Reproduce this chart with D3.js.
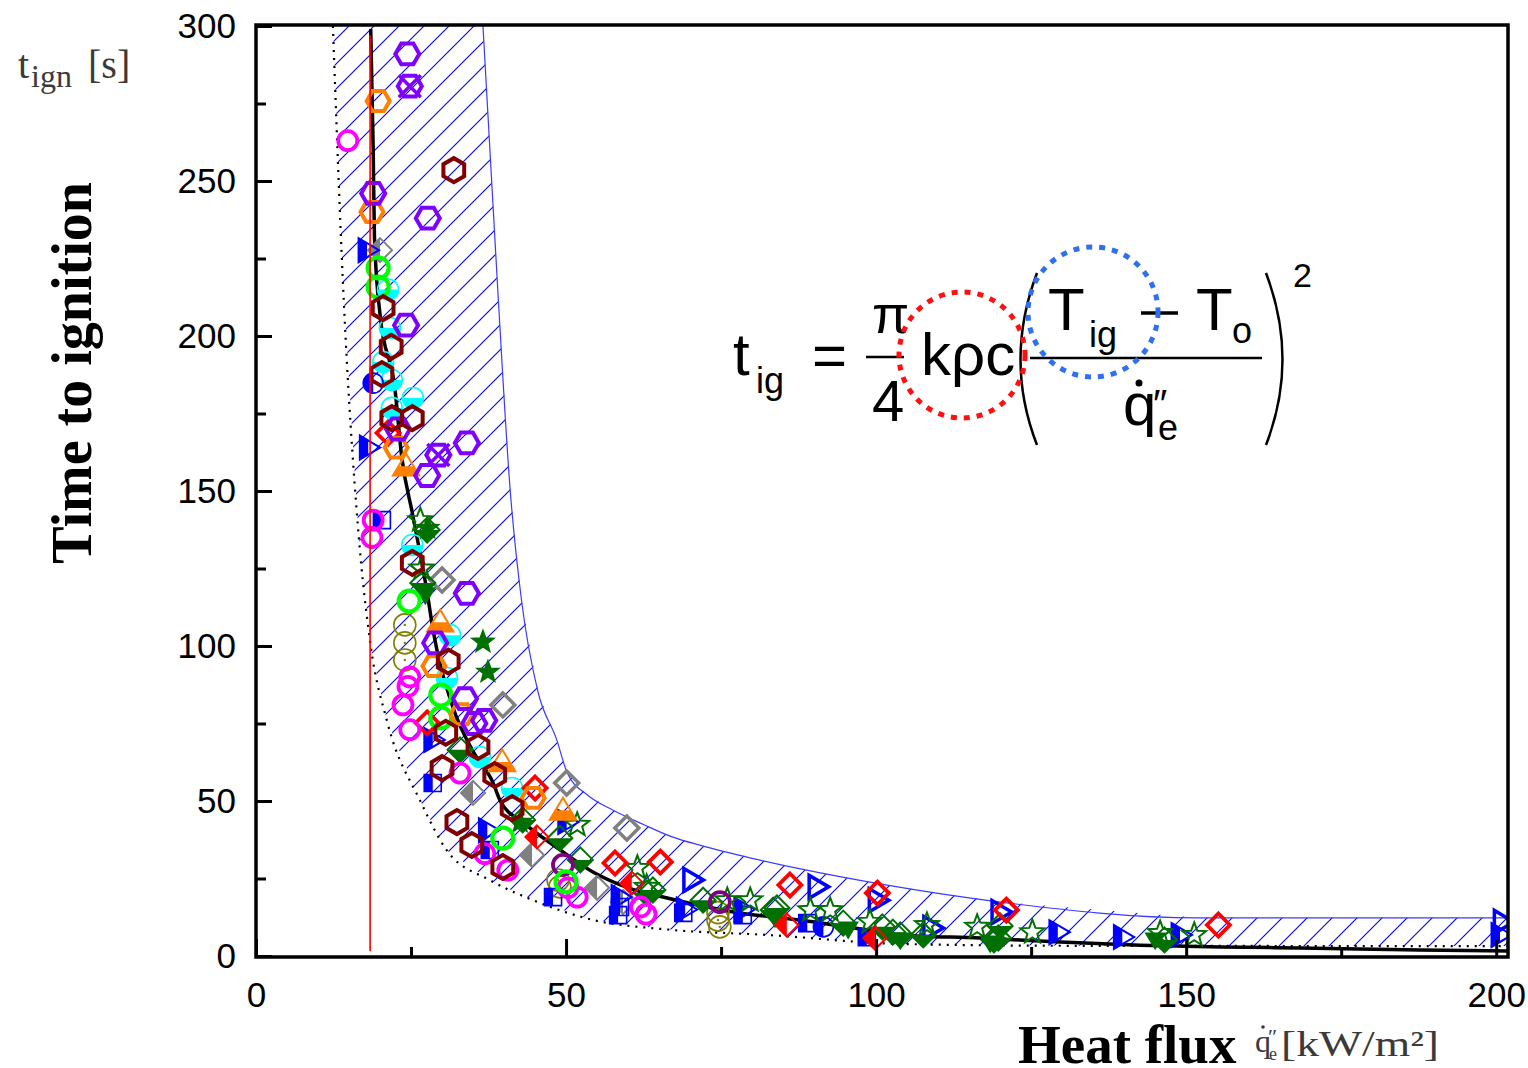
<!DOCTYPE html>
<html>
<head>
<meta charset="utf-8">
<script src="https://cdn.jsdelivr.net/npm/d3@7"></script>
<style>
  body { margin: 0; background: #fff; }
  .tick text { font-family: "Liberation Sans", Arial, sans-serif; font-size: 35px; fill: #000; }
</style>
</head>
<body>
<svg id="chart" width="1528" height="1068"></svg>
<script>
//////////////////////// data ////////////////////////
// each point is [heat flux kW/m2, time to ignition s]

const xMajorTicks = [0, 50, 100, 150, 200];
const xMinorTicks = [25, 75, 125, 175];
const yMajorTicks = [0, 50, 100, 150, 200, 250, 300];
const yMinorTicks = [25, 75, 125, 175, 225, 275];

// correlation curve and the scatter band
const fitCurve = [[18.5,299],[18.9,260],[19.1,232],[20.0,207],[22.4,183],[23.5,161],[25.2,143],[27.7,116],
  [28.4,107],[31.8,80],[35,66],[38.2,56],[39.4,50],[43.1,43],[48.5,35],[54.4,27],[60,22],[66.3,18.7],
  [77,14.2],[87.7,11.6],[98.5,8.4],[103.9,6.8],[116.8,5.8],[129.7,4.5],[142.6,3.5],[155.5,2.9],
  [168.4,2.6],[187.7,1.9],[201.9,1.6]];
const bandUpper = [[36.6,300],[38.9,218],[41.0,150],[42.8,115],[45.5,85],[48.5,69.7],[50.2,59],[53.4,52],
  [57.6,47],[62.4,42.5],[67,38.5],[72,35.5],[80,31.5],[88,28],[101.3,23],[120,17.4],[152,12.3],[201.9,12.3]];
const bandLower = [[12.4,300],[14.0,218],[16.5,137],[18.5,100],[21.1,76],[26.5,50],[30.8,34],[37.7,24.5],
  [44.7,18],[54.4,11.6],[66,8.6],[82.4,6.8],[103.9,3.9],[130,3.3],[201.9,3.2]];
const criticalFlux = [[18.4,1.5],[18.4,297]];

// test series
const hexPurple = [[24.4,291],[27.7,238],[18.9,246],[24.2,203.5],[22.9,170],[27.6,155],[34.0,165.5],
  [34.0,117],[28.9,101],[33.7,83],[35.2,75],[36.8,76]];
const hexPurpleCross = [[24.8,280.6],[29.4,161.6]];
const hexOrange = [[19.7,275.8],[18.7,240],[22.6,164],[28.7,93.5],[33.2,78],[44.7,51]];
const triOrange = [[24.2,158],[29.7,107.7],[39.7,62.6],[49.5,47]];
const circMagenta = [[14.8,263],[18.9,140.6],[18.7,135],[24.8,90],[24.5,87],[23.7,81],[24.8,73],[32.9,59],
  [36.9,33],[40.6,27.7],[51.8,19],[50.3,22],[62,15.8],[62.9,13.5]];
const hexMaroon = [[31.9,253.5],[20.5,209],[21.8,196.5],[20.3,187.7],[21.9,173.5],[25.2,173.5],[25.2,126.8],
  [31,95],[30.6,72],[35.8,67.4],[30,60.6],[32.4,43.2],[34.8,35.8],[39.8,28.7],[41.3,47.7],[38.5,58.4]];
const circCyan = [[21.3,215],[21.6,202.6],[20.5,191.6],[21.9,185.8],[21.9,176.8],[25.3,180],[25.2,132.6],
  [31.3,103.5],[30.8,89.7],[36.1,64.2],[41.3,54.2]];
const circGreen = [[19.7,222],[19.7,215.8],[24.7,114.5],[29.8,84.2],[29.8,76.8],[39.8,38],[50,23.9]];
const circOlive = [[24,106.8],[24,101],[24,95.5],[48.7,24.5],[49,22.3],[74.5,11.6],[74.8,9.4],[74.5,14]];
const circPlum = [[49.5,29.4],[74.8,17.4]];
const diamGrayHalf = [[20,227.7],[35,52.6],[44.5,32.6],[55,22],[59.2,17.4]];
const diamGray = [[30,121.3],[39.8,81],[50.1,55.8],[59.8,41.3]];
const triBlueHalf = [[17.9,227.7],[18.1,164],[28.5,69.7],[37.3,40.6],[50.1,43.2],[58.7,19],[69.2,15],
  [78.5,15],[129.3,7.7],[139.7,6.1],[149,6.8],[200.6,6.8]];
const triBlue = [[70.3,24.5],[90.5,22.3],[100.2,18],[120,14.2],[109,9],[201,11]];
const circBlueHalf = [[18.9,184.8],[91.5,9.4]];
const sqBlueHalf = [[20.3,140.6],[28.5,55.8],[47.9,19],[58.7,15.8],[58.4,13.2],[68.9,13.9],[78.5,13.2],
  [88.9,10.6],[98.5,6.1],[37.7,34.2]];
const diamRed = [[21.3,168.7],[27.6,75.2],[45,54.2],[57.9,30],[65.2,30.3],[86.1,22.9],[100.2,20.3],
  [121,14.8],[155.2,10]];
const diamRedHalf = [[45.3,38.4],[85.6,10],[99.8,5.8],[60.6,23.5]];
const starGreen = [[26.5,140.6],[26.7,125],[51.8,42.3],[61.5,28.4],[63,22.3],[76,18],[79.7,18],[89.4,14.8],
  [92.6,14.8],[99,11],[108.2,10],[116.3,9.4],[125.2,7.7],[145.8,7.4],[151.3,6.8]];
const starGreenFilled = [[36.6,101.3],[37.4,91.6],[42.6,43.2],[27.7,138]];
const diamGreenHalf = [[27.6,137.4],[26.9,120.3],[32.9,66.5],[43,43.9],[49,38],[52.3,31],[63,20.3],
  [64,21.3],[72.1,18],[84,15.5],[94.7,10.6],[102.7,7.7],[83.4,14.8],[101,9.4],[103.9,6.8],[107.6,6.8],
  [119.7,5.8],[119,5.2],[120,9.7],[146.5,5.2]];
const triGreenDown = [[27.3,116.5],[83.7,12.3],[95.5,8.7],[103.9,5.2],[118.4,4.2],[145,5.2]];

//////////////////////// scales ////////////////////////
const svg = d3.select("#chart");
const x = d3.scaleLinear().domain([0, 201.9]).range([256, 1508]);
const y = d3.scaleLinear().domain([0, 300]).range([956, 26]);

const defs = svg.append("defs");
defs.append("clipPath").attr("id", "plotClip")
  .append("rect").attr("x", 256).attr("y", 25).attr("width", 1252).attr("height", 932);
defs.append("clipPath").attr("id", "clipleft").attr("clipPathUnits", "userSpaceOnUse")
  .append("rect").attr("x", -30).attr("y", -30).attr("width", 30).attr("height", 60);
defs.append("clipPath").attr("id", "clipbottom").attr("clipPathUnits", "userSpaceOnUse")
  .append("rect").attr("x", -30).attr("y", 0).attr("width", 60).attr("height", 30);
const hatch = defs.append("pattern").attr("id", "hatch")
  .attr("patternUnits", "userSpaceOnUse").attr("width", 25).attr("height", 25);
hatch.append("path").attr("d", "M0,25L25,0M-5,5L5,-5M20,30L30,20")
  .attr("stroke", "#0000ff").attr("stroke-width", 1.1);

//////////////////////// band and curves ////////////////////////
const plot = svg.append("g").attr("clip-path", "url(#plotClip)");
const line = d3.line().x(d => x(d[0])).y(d => y(d[1]));

plot.append("path")
  .attr("d", line.curve(d3.curveLinearClosed)(bandUpper.concat(bandLower.slice().reverse())))
  .attr("fill", "url(#hatch)");
line.curve(d3.curveMonotoneX);
plot.append("path").attr("d", line(bandUpper))
  .attr("fill", "none").attr("stroke", "#3a3aff").attr("stroke-width", 1.2);
plot.append("path").attr("d", line(bandLower))
  .attr("fill", "none").attr("stroke", "#000").attr("stroke-width", 2.2).attr("stroke-dasharray", "2,6");
plot.append("path").attr("d", line(fitCurve))
  .attr("fill", "none").attr("stroke", "#000").attr("stroke-width", 3.5);

//////////////////////// markers ////////////////////////
function poly(pts) { return "M" + pts.map(p => p[0].toFixed(2) + "," + p[1].toFixed(2)).join("L") + "Z"; }
function hexPath(r, pointy) {
  const a0 = pointy ? Math.PI / 6 : 0;
  return poly(d3.range(6).map(i => [r * Math.cos(a0 + i * Math.PI / 3), r * Math.sin(a0 + i * Math.PI / 3)]));
}
const circlePath = r => `M${r},0A${r},${r} 0 1 1 ${-r},0A${r},${r} 0 1 1 ${r},0Z`;
const diamondPath = r => poly([[0,-r],[r,0],[0,r],[-r,0]]);
const squarePath = r => poly([[-r,-r],[r,-r],[r,r],[-r,r]]);
const triRightPath = r => poly([[r,0],[-r*0.7,-r],[-r*0.7,r]]);
const triUpPath = r => poly([[0,-r],[r*1.05,r*0.75],[-r*1.05,r*0.75]]);
const triDownPath = r => poly([[0,r],[r*1.05,-r*0.75],[-r*1.05,-r*0.75]]);
function starPath(R) {
  const r0 = R * 0.42;
  return poly(d3.range(10).map(i => {
    const a = -Math.PI / 2 + i * Math.PI / 5, rr = i % 2 ? r0 : R;
    return [rr * Math.cos(a), rr * Math.sin(a)];
  }));
}

const series = [
  { data: diamGray, path: diamondPath(12), color: "#808080", fill: "none", sw: 3.5 },
  { data: diamGrayHalf, path: diamondPath(12), color: "#808080", fill: "left", sw: 2 },
  { data: circOlive, path: circlePath(11), color: "#808000", fill: "none", sw: 1.6, dot: true },
  { data: circCyan, path: circlePath(10.5), color: "#00ffff", fill: "bottom", sw: 1.6 },
  { data: sqBlueHalf, path: squarePath(8.5), color: "#0000ff", fill: "left", sw: 1.6 },
  { data: circBlueHalf, path: circlePath(10), color: "#0000ff", fill: "left", sw: 1.6 },
  { data: triBlueHalf, path: triRightPath(12), color: "#0000ff", fill: "left", sw: 2 },
  { data: triBlue, path: triRightPath(11.5), color: "#0000ff", fill: "none", sw: 3.5 },
  { data: diamGreenHalf, path: diamondPath(12.5), color: "#007000", fill: "bottom", sw: 2 },
  { data: triGreenDown, path: triDownPath(9), color: "#007000", fill: "full", sw: 1.5 },
  { data: starGreen, path: starPath(12.5), color: "#007000", fill: "none", sw: 2 },
  { data: starGreenFilled, path: starPath(11.5), color: "#007000", fill: "full", sw: 1.5 },
  { data: diamRedHalf, path: diamondPath(11.5), color: "#ff0000", fill: "left", sw: 2 },
  { data: diamRed, path: diamondPath(11.5), color: "#ff0000", fill: "none", sw: 3.8 },
  { data: circPlum, path: circlePath(10), color: "#800080", fill: "none", sw: 3.8 },
  { data: circMagenta, path: circlePath(9.5), color: "#ff00ff", fill: "none", sw: 3.8 },
  { data: triOrange, path: triUpPath(12.5), color: "#ff8000", fill: "bottom", sw: 2 },
  { data: circGreen, path: circlePath(10.5), color: "#00ff00", fill: "none", sw: 4.2 },
  { data: hexOrange, path: hexPath(11.5, false), color: "#ff8000", fill: "none", sw: 4 },
  { data: hexPurple, path: hexPath(12, false), color: "#8000ff", fill: "none", sw: 4 },
  { data: hexPurpleCross, path: hexPath(12, false), color: "#8000ff", fill: "none", sw: 4, cross: true },
  { data: hexMaroon, path: hexPath(12, true), color: "#800000", fill: "none", sw: 4 }
];

const marks = plot.append("g").attr("class", "marks");
series.forEach(s => {
  const g = marks.append("g").selectAll("g").data(s.data).join("g")
    .attr("transform", d => `translate(${x(d[0])},${y(d[1])})`);
  if (s.fill === "left" || s.fill === "bottom") {
    g.append("path").attr("d", s.path).attr("fill", s.color).attr("clip-path", `url(#clip${s.fill})`);
  }
  g.append("path").attr("d", s.path)
    .attr("fill", s.fill === "full" ? s.color : "none")
    .attr("stroke", s.color).attr("stroke-width", s.sw).attr("stroke-linejoin", "miter");
  if (s.cross) {
    g.append("path").attr("d", "M-11,-11L11,11M-11,11L11,-11")
      .attr("stroke", s.color).attr("stroke-width", 3.5);
  }
  if (s.dot) g.append("circle").attr("r", 1.2).attr("fill", s.color);
});

// critical heat flux line drawn over the markers
plot.append("path").attr("d", d3.line().x(d => x(d[0])).y(d => y(d[1]))(criticalFlux))
  .attr("stroke", "#ff0000").attr("stroke-width", 1.6).attr("fill", "none");

//////////////////////// axes ////////////////////////
svg.append("g").attr("transform", "translate(0,957)")
  .call(d3.axisBottom(x).tickValues(xMajorTicks).tickSize(-18).tickPadding(25).tickFormat(d3.format("d")));
svg.append("g").attr("transform", "translate(0,957)")
  .call(d3.axisBottom(x).tickValues(xMinorTicks).tickSize(-10).tickFormat(""));
const yAxis = svg.append("g").attr("transform", "translate(256,0)")
  .call(d3.axisLeft(y).tickValues(yMajorTicks).tickSize(-16).tickPadding(20).tickFormat(d3.format("d")));
svg.append("g").attr("transform", "translate(256,0)")
  .call(d3.axisLeft(y).tickValues(yMinorTicks).tickSize(-10).tickFormat(""));
svg.selectAll(".domain").remove();
svg.selectAll(".tick line").attr("stroke", "#000").attr("stroke-width", 3);
yAxis.selectAll(".tick text").attr("dy", "0.34em");

svg.append("rect").attr("x", 256).attr("y", 25).attr("width", 1252).attr("height", 932)
  .attr("fill", "none").attr("stroke", "#000").attr("stroke-width", 3.5);

//////////////////////// axis titles ////////////////////////
const serif = "'Liberation Serif', 'Times New Roman', serif";
svg.append("text")
  .attr("transform", "translate(91,373) rotate(-90)")
  .attr("text-anchor", "middle")
  .style("font-family", serif)
  .style("font-weight", "bold").style("font-size", "56px")
  .text("Time to ignition");

const tUnit = svg.append("g").style("font-family", serif).attr("fill", "#3a3a3a");
tUnit.append("text").attr("x", 18).attr("y", 78).style("font-size", "40px").text("t");
tUnit.append("text").attr("x", 31).attr("y", 87).style("font-size", "32px").text("ign");
tUnit.append("text").attr("x", 88).attr("y", 78).style("font-size", "40px").text("[s]");

svg.append("text").attr("x", 1018).attr("y", 1063)
  .style("font-family", serif)
  .style("font-weight", "bold").style("font-size", "55px")
  .text("Heat flux");

const qUnit = svg.append("g").style("font-family", serif).attr("fill", "#3a3a3a");
qUnit.append("text").attr("x", 1255).attr("y", 1052).style("font-size", "32px").text("q");
qUnit.append("circle").attr("cx", 1263).attr("cy", 1027).attr("r", 1.8).attr("fill", "#3a3a3a");
qUnit.append("text").attr("x", 1268).attr("y", 1044).style("font-size", "22px").text("″");
qUnit.append("text").attr("x", 1269).attr("y", 1060).style("font-size", "18px").text("e");
qUnit.append("text").attr("x", 1281).attr("y", 1056).style("font-size", "36px")
  .attr("textLength", 158).attr("lengthAdjust", "spacingAndGlyphs").text("[kW/m²]");

//////////////////////// formula annotation ////////////////////////
const f = svg.append("g").style("font-family", "'Liberation Sans', Arial, sans-serif").attr("fill", "#000");
f.append("text").attr("x", 733).attr("y", 375).style("font-size", "60px").text("t");
f.append("text").attr("x", 756).attr("y", 393).style("font-size", "36px").text("ig");
f.append("text").attr("x", 812).attr("y", 376).style("font-size", "60px").text("=");
f.append("text").attr("x", 872).attr("y", 333).style("font-size", "54px").text("π");
f.append("line").attr("x1", 866).attr("x2", 904).attr("y1", 357).attr("y2", 357)
  .attr("stroke", "#000").attr("stroke-width", 2.5);
f.append("text").attr("x", 872).attr("y", 421).style("font-size", "58px").text("4");
f.append("text").attr("x", 921).attr("y", 375).style("font-size", "60px").text("kρc");
f.append("path").attr("d", "M1037,273Q1004,360 1037,445").attr("fill", "none").attr("stroke", "#000").attr("stroke-width", 2.5);
f.append("path").attr("d", "M1266,273Q1299,360 1266,445").attr("fill", "none").attr("stroke", "#000").attr("stroke-width", 2.5);
f.append("text").attr("x", 1048).attr("y", 330).style("font-size", "60px").text("T");
f.append("text").attr("x", 1089).attr("y", 347).style("font-size", "36px").text("ig");
f.append("line").attr("x1", 1141).attr("x2", 1178).attr("y1", 313).attr("y2", 313)
  .attr("stroke", "#000").attr("stroke-width", 3.5);
f.append("text").attr("x", 1196).attr("y", 330).style("font-size", "60px").text("T");
f.append("text").attr("x", 1232).attr("y", 343).style("font-size", "36px").text("o");
f.append("line").attr("x1", 1030).attr("x2", 1262).attr("y1", 358).attr("y2", 358)
  .attr("stroke", "#000").attr("stroke-width", 2.5);
f.append("text").attr("x", 1123).attr("y", 425).style("font-size", "60px").text("q");
f.append("circle").attr("cx", 1139).attr("cy", 383).attr("r", 3.5);
f.append("text").attr("x", 1153).attr("y", 418).style("font-size", "40px").text("″");
f.append("text").attr("x", 1158).attr("y", 440).style("font-size", "36px").text("e");
f.append("text").attr("x", 1293).attr("y", 287).style("font-size", "34px").text("2");

f.append("circle").attr("cx", 962).attr("cy", 355).attr("r", 63)
  .attr("fill", "none").attr("stroke", "#ff1010").attr("stroke-width", 5).attr("stroke-dasharray", "6,7");
f.append("circle").attr("cx", 1093).attr("cy", 312).attr("r", 65)
  .attr("fill", "none").attr("stroke", "#3070f0").attr("stroke-width", 5).attr("stroke-dasharray", "6,7");
</script>
</body>
</html>
